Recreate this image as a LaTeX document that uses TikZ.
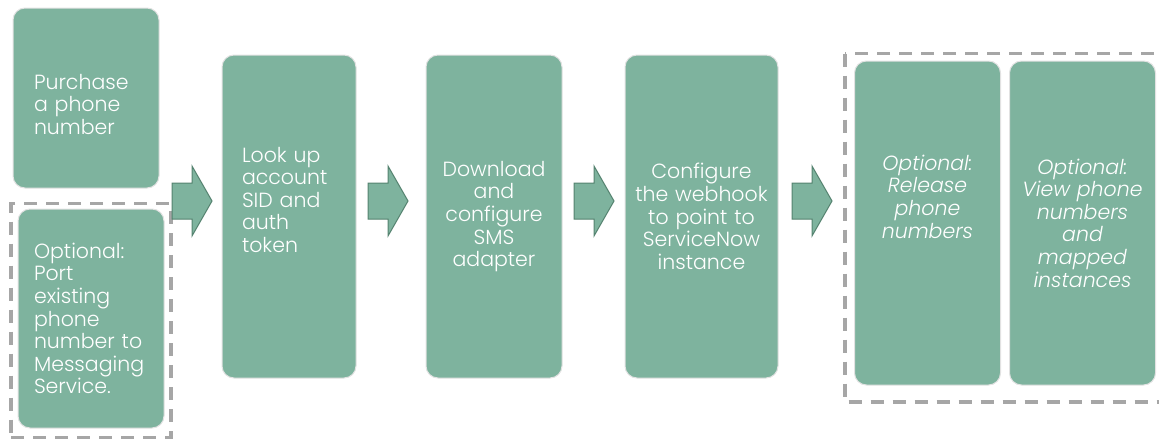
\documentclass[tikz,border=0pt]{standalone}
\usepackage{fontspec}
\IfFontExistsTF{Poppins Light}{\setmainfont{Poppins Light}}{\setmainfont{Poppins}}
\usetikzlibrary{positioning,fit}

\definecolor{stepgreen}{RGB}{126,179,158}
\definecolor{arrowedge}{RGB}{84,130,111}
\definecolor{boxedge}{RGB}{226,226,226}
\definecolor{groupgray}{RGB}{166,166,166}

\begin{document}
\begin{tikzpicture}[
        x=1pt, y=-1pt,
        every node/.style={font=\fontsize{20.5}{22.6}\selectfont},
        stepbox/.style={rectangle, draw=boxedge, line width=1pt, fill=stepgreen, rounded corners=12pt, text=white, inner sep=0pt},
        tallbox/.style={stepbox, minimum height=323pt},
        optbox/.style={stepbox, minimum height=324pt, minimum width=146pt, text width=140pt, align=center, font=\fontsize{20.5}{22.6}\selectfont\itshape},
        groupline/.style={draw=groupgray, line width=3.5pt, dash pattern=on 13pt off 9pt},
        flow/.style={fill=stepgreen, draw=arrowedge, line width=1pt, line join=miter},
        flowarrow/.pic={\draw[flow] (-20,-18) -- (0,-18) -- (0,-35) -- (20,0) -- (0,35) -- (0,18) -- (-20,18) -- cycle;}
        ]
        \useasboundingbox (0,0) rectangle (1159,440);

        % First column: buy or port a number
        \node[stepbox, minimum width=146pt, minimum height=180pt, text width=104pt, align=left, text depth=33pt] (buy) at (86,98) {Purchase\\a phone\\number};
        \node[stepbox, minimum width=146pt, minimum height=219pt, text width=114pt, align=left] (port) at (91,318.5) {Optional:\\Port\\existing\\phone\\number to\\Messaging\\Service.};
        \node[groupline, fit=(port), inner xsep=6.5pt, inner ysep=7pt, yshift=-2pt] (portgroup) {};

        % Main steps
        \node[tallbox, minimum width=134pt, text width=94pt, align=left, text depth=124pt] (lookup) at (289,216.5) {Look up\\account\\SID and\\auth\\token};
        \node[tallbox, minimum width=136pt, text width=130pt, align=center] (sms) at (494,216.5) {Download\\and\\configure\\SMS\\adapter};
        \node[tallbox, minimum width=153pt, text width=150pt, align=center] (hook) at (701.5,216.5) {Configure\\the webhook\\to point to\\ServiceNow\\instance};

        % Optional follow-ups
        \node[optbox, text depth=121pt] (release) at (927.5,223) {Optional:\\Release\\phone\\numbers};
        \node[optbox, right=8pt of release] (view) {Optional:\\View phone\\numbers\\and\\mapped\\instances};
        \draw[groupline] ([xshift=-9pt,yshift=7pt]release.north west) rectangle ([xshift=12pt,yshift=-16.5pt]view.south east);

        % Block arrows between the steps
        \pic at (192,201) {flowarrow};
        \pic at (388,201) {flowarrow};
        \pic at (594,201) {flowarrow};
        \pic at (812,201) {flowarrow};
    \end{tikzpicture}
\end{document}
